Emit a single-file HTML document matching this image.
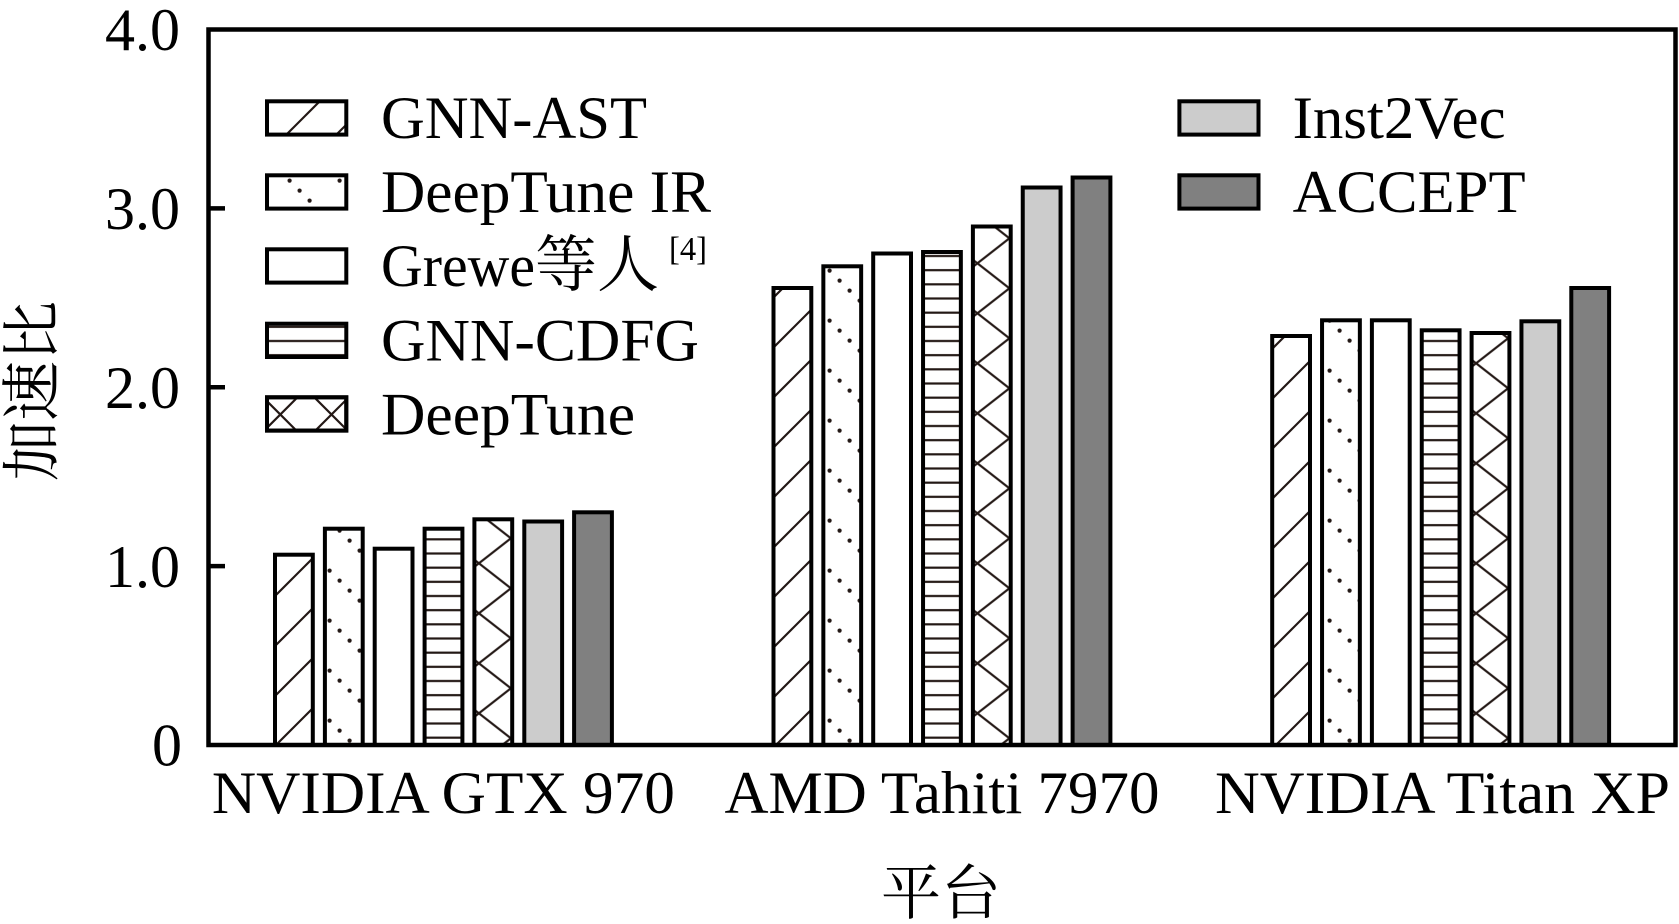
<!DOCTYPE html>
<html>
<head>
<meta charset="utf-8">
<style>
html,body{margin:0;padding:0;background:#fff;}
svg{display:block;}
text{font-family:"Liberation Serif","Noto Serif CJK SC",serif;fill:#000;}
</style>
</head>
<body>
<svg width="1679" height="924" viewBox="0 0 1679 924" xmlns="http://www.w3.org/2000/svg">
<defs>
  <pattern id="pd" patternUnits="userSpaceOnUse" x="0" y="0" width="50" height="50">
    <rect width="50" height="50" fill="#fff"/>
    <g stroke="#231815" stroke-width="2.2">
      <line x1="-10" y1="-19" x2="60" y2="-89"/>
      <line x1="-10" y1="31" x2="60" y2="-39"/>
      <line x1="-10" y1="81" x2="60" y2="11"/>
      <line x1="-10" y1="131" x2="60" y2="61"/>
    </g>
  </pattern>
  <pattern id="pt" patternUnits="userSpaceOnUse" x="4.6" y="5" width="50" height="50">
    <rect width="50" height="50" fill="#fff"/>
    <g fill="#231815">
      <circle cx="5" cy="45.6" r="2.1"/>
      <circle cx="15" cy="5.6" r="2.1"/>
      <circle cx="25" cy="15.6" r="2.1"/>
      <circle cx="35" cy="25.6" r="2.1"/>
      <circle cx="45" cy="35.6" r="2.1"/>
    </g>
  </pattern>
  <pattern id="ph" patternUnits="userSpaceOnUse" x="0" y="-6.08" width="20" height="14.1667">
    <rect width="20" height="14.1667" fill="#fff"/>
    <rect x="0" y="5.98" width="20" height="2.2" fill="#231815"/>
  </pattern>
  <pattern id="px1" patternUnits="userSpaceOnUse" x="478.9" y="13.3" width="64" height="50">
    <rect width="64" height="50" fill="#fff"/>
    <g stroke="#231815" stroke-width="2.2">
      <line x1="-8" y1="-56.25" x2="72" y2="6.25"/>
      <line x1="-8" y1="-6.25" x2="72" y2="56.25"/>
      <line x1="-8" y1="43.75" x2="72" y2="106.25"/>
      <line x1="-8" y1="6.25" x2="72" y2="-56.25"/>
      <line x1="-8" y1="56.25" x2="72" y2="-6.25"/>
      <line x1="-8" y1="106.25" x2="72" y2="43.75"/>
    </g>
  </pattern>
  <pattern id="px2" patternUnits="userSpaceOnUse" x="977.4" y="13.3" width="64" height="50">
    <rect width="64" height="50" fill="#fff"/>
    <g stroke="#231815" stroke-width="2.2">
      <line x1="-8" y1="-56.25" x2="72" y2="6.25"/>
      <line x1="-8" y1="-6.25" x2="72" y2="56.25"/>
      <line x1="-8" y1="43.75" x2="72" y2="106.25"/>
      <line x1="-8" y1="6.25" x2="72" y2="-56.25"/>
      <line x1="-8" y1="56.25" x2="72" y2="-6.25"/>
      <line x1="-8" y1="106.25" x2="72" y2="43.75"/>
    </g>
  </pattern>
  <pattern id="px3" patternUnits="userSpaceOnUse" x="1476.1" y="13.3" width="64" height="50">
    <rect width="64" height="50" fill="#fff"/>
    <g stroke="#231815" stroke-width="2.2">
      <line x1="-8" y1="-56.25" x2="72" y2="6.25"/>
      <line x1="-8" y1="-6.25" x2="72" y2="56.25"/>
      <line x1="-8" y1="43.75" x2="72" y2="106.25"/>
      <line x1="-8" y1="6.25" x2="72" y2="-56.25"/>
      <line x1="-8" y1="56.25" x2="72" y2="-6.25"/>
      <line x1="-8" y1="106.25" x2="72" y2="43.75"/>
    </g>
  </pattern>
  <clipPath id="cl5"><rect x="267" y="397.3" width="79.3" height="33.3"/></clipPath>
</defs>

<rect width="1679" height="924" fill="#fff"/>

<!-- Bars group 1 -->
<g stroke="#000" stroke-width="4">
  <rect x="275" y="554.7" width="37.8" height="190.3" fill="url(#pd)"/>
  <rect x="324.9" y="528.7" width="37.8" height="216.3" fill="url(#pt)"/>
  <rect x="374.7" y="548.7" width="37.8" height="196.3" fill="#fff"/>
  <rect x="424.6" y="528.7" width="37.8" height="216.3" fill="url(#ph)"/>
  <rect x="474.4" y="519.3" width="37.8" height="225.7" fill="url(#px1)"/>
  <rect x="524.3" y="521.5" width="37.8" height="223.5" fill="#cccccc"/>
  <rect x="574.1" y="512.3" width="37.8" height="232.7" fill="#808080"/>
</g>
<!-- Bars group 2 -->
<g stroke="#000" stroke-width="4">
  <rect x="773.5" y="288" width="37.8" height="457" fill="url(#pd)"/>
  <rect x="823.35" y="266.3" width="37.8" height="478.7" fill="url(#pt)"/>
  <rect x="873.2" y="253.5" width="37.8" height="491.5" fill="#fff"/>
  <rect x="923.05" y="252" width="37.8" height="493" fill="url(#ph)"/>
  <rect x="972.9" y="226.5" width="37.8" height="518.5" fill="url(#px2)"/>
  <rect x="1022.75" y="187.5" width="37.8" height="557.5" fill="#cccccc"/>
  <rect x="1072.6" y="177.5" width="37.8" height="567.5" fill="#808080"/>
</g>
<!-- Bars group 3 -->
<g stroke="#000" stroke-width="4">
  <rect x="1272.2" y="336" width="37.8" height="409" fill="url(#pd)"/>
  <rect x="1322.05" y="320.3" width="37.8" height="424.7" fill="url(#pt)"/>
  <rect x="1371.9" y="320.3" width="37.8" height="424.7" fill="#fff"/>
  <rect x="1421.75" y="330.3" width="37.8" height="414.7" fill="url(#ph)"/>
  <rect x="1471.6" y="333" width="37.8" height="412" fill="url(#px3)"/>
  <rect x="1521.45" y="321.3" width="37.8" height="423.7" fill="#cccccc"/>
  <rect x="1571.3" y="288" width="37.8" height="457" fill="#808080"/>
</g>

<!-- Frame -->
<rect x="208.5" y="29.5" width="1467" height="715.5" fill="none" stroke="#000" stroke-width="4.5"/>
<g stroke="#000" stroke-width="4.5">
  <line x1="208.5" y1="208.4" x2="225" y2="208.4"/>
  <line x1="208.5" y1="387.3" x2="225" y2="387.3"/>
  <line x1="208.5" y1="566.1" x2="225" y2="566.1"/>
</g>

<!-- Y tick labels -->
<g font-size="60" text-anchor="end">
  <text x="180" y="50" textLength="75" lengthAdjust="spacingAndGlyphs">4.0</text>
  <text x="180" y="229" textLength="75" lengthAdjust="spacingAndGlyphs">3.0</text>
  <text x="180" y="408" textLength="75" lengthAdjust="spacingAndGlyphs">2.0</text>
  <text x="180" y="587" textLength="75" lengthAdjust="spacingAndGlyphs">1.0</text>
  <text x="182" y="765.5">0</text>
</g>

<!-- X category labels -->
<g font-size="60" text-anchor="middle">
  <text x="443.4" y="813" textLength="463" lengthAdjust="spacingAndGlyphs">NVIDIA GTX 970</text>
  <text x="942" y="813" textLength="435" lengthAdjust="spacingAndGlyphs">AMD Tahiti 7970</text>
  <text x="1442.5" y="813" textLength="455" lengthAdjust="spacingAndGlyphs">NVIDIA Titan XP</text>
</g>

<!-- Axis titles -->
<text x="941" y="914" font-size="60" text-anchor="middle" style="font-family:'Noto Serif CJK SC','Liberation Serif',serif;">平台</text>
<text transform="translate(53,391) rotate(-90)" font-size="60" text-anchor="middle" style="font-family:'Noto Serif CJK SC','Liberation Serif',serif;">加速比</text>

<!-- Legend column 1 -->
<g stroke="#000" stroke-width="4">
  <rect x="267" y="101.3" width="79.3" height="33.3" fill="url(#pd)"/>
  <rect x="267" y="175.3" width="79.3" height="33.3" fill="url(#pt)"/>
  <rect x="267" y="249.3" width="79.3" height="33.3" fill="#fff"/>
  <rect x="267" y="323.7" width="79.3" height="33.3" fill="url(#ph)"/>
  <rect x="267" y="397.3" width="79.3" height="33.3" fill="#fff"/>
</g>
<g clip-path="url(#cl5)" stroke="#231815" stroke-width="2.2">
  <line x1="255.3" y1="389.5" x2="305.3" y2="439.5"/>
  <line x1="255.3" y1="439.5" x2="305.3" y2="389.5"/>
  <line x1="306.5" y1="389.5" x2="356.5" y2="439.5"/>
  <line x1="306.5" y1="439.5" x2="356.5" y2="389.5"/>
</g>
<rect x="267" y="397.3" width="79.3" height="33.3" fill="none" stroke="#000" stroke-width="4"/>

<g font-size="60">
  <text x="381" y="138" textLength="266" lengthAdjust="spacingAndGlyphs">GNN-AST</text>
  <text x="381" y="212" textLength="330" lengthAdjust="spacingAndGlyphs">DeepTune IR</text>
  <text x="381" y="286" textLength="154" lengthAdjust="spacingAndGlyphs">Grewe</text>
  <text x="535" y="286" font-size="62" style="font-family:'Noto Serif CJK SC','Liberation Serif',serif;">等人</text>
  <text x="669" y="260" font-size="34" textLength="38" lengthAdjust="spacingAndGlyphs">[4]</text>
  <text x="381" y="360.5" textLength="318" lengthAdjust="spacingAndGlyphs">GNN-CDFG</text>
  <text x="381" y="434.5" textLength="254" lengthAdjust="spacingAndGlyphs">DeepTune</text>
</g>

<!-- Legend column 2 -->
<g stroke="#000" stroke-width="4">
  <rect x="1179.4" y="101.3" width="79.1" height="33.3" fill="#cccccc"/>
  <rect x="1179.4" y="175.3" width="79.1" height="33.3" fill="#808080"/>
</g>
<g font-size="60">
  <text x="1292.6" y="138" textLength="213" lengthAdjust="spacingAndGlyphs">Inst2Vec</text>
  <text x="1292.6" y="212" textLength="233" lengthAdjust="spacingAndGlyphs">ACCEPT</text>
</g>
</svg>
</body>
</html>
